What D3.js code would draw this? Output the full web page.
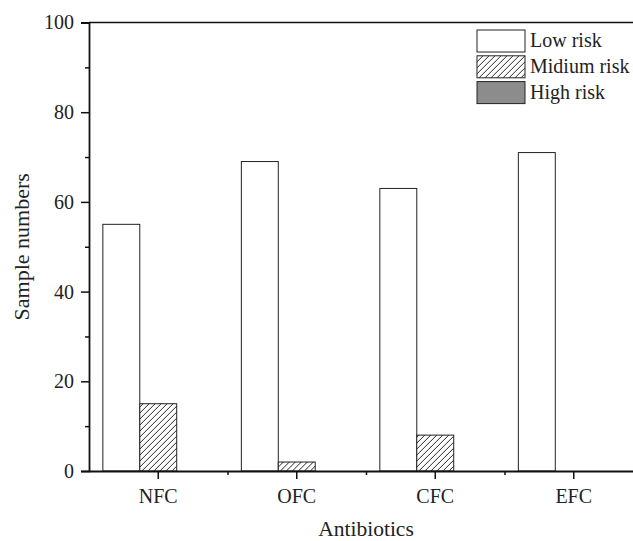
<!DOCTYPE html>
<html>
<head>
<meta charset="utf-8">
<script src="https://cdn.jsdelivr.net/npm/d3@7"></script>
<style>
  body { margin: 0; background: #fff; }
  svg { display: block; font-family: "Liberation Serif", "Times New Roman", serif; }
</style>
</head>
<body>
<svg id="chart" width="633" height="541"></svg>
<script>
// data
const antibiotics = ["NFC", "OFC", "CFC", "EFC"];
const riskLevels = ["Low risk", "Midium risk", "High risk"];
const lowRisk = [55, 69, 63, 71];
const midRisk = [15, 2, 8, 0];
const highRisk = [0, 0, 0, 0];
const yTicks = [0, 20, 40, 60, 80, 100];
const yMinorTicks = [10, 30, 50, 70, 90];

const seriesValues = [lowRisk, midRisk, highRisk];

const svg = d3.select("#chart");

// plot box (right edge runs past the picture, as in the original)
const plotLeft = 89, plotRight = 643, plotTop = 22.5, plotBottom = 471;

const x = d3.scaleBand()
    .domain(antibiotics)
    .range([plotLeft, plotRight])
    .paddingInner(0.2)
    .paddingOuter(0.1);

const xs = d3.scaleBand()
    .domain(riskLevels)
    .range([0, x.bandwidth()]);

const y = d3.scaleLinear()
    .domain([0, 100])
    .range([plotBottom, plotTop]);

// fills: plain, hatched, gray
const defs = svg.append("defs");
const pat = defs.append("pattern")
    .attr("id", "hatch")
    .attr("patternUnits", "userSpaceOnUse")
    .attr("width", 6)
    .attr("height", 6);
pat.append("rect").attr("width", 6).attr("height", 6).attr("fill", "#fff");
pat.append("path")
    .attr("d", "M-1,7 L7,-1 M-4,4 L4,-4 M2,10 L10,2")
    .attr("stroke", "#111")
    .attr("stroke-width", 0.9);

const fills = ["#fff", "url(#hatch)", "#8c8c8c"];

// bars
const groups = svg.append("g").selectAll("g")
    .data(antibiotics)
    .join("g")
    .attr("transform", d => "translate(" + x(d) + ",0)");

groups.selectAll("rect")
    .data((d, i) => riskLevels.map((r, j) => ({ risk: r, value: seriesValues[j][i], j: j })))
    .join("rect")
    .attr("x", d => xs(d.risk))
    .attr("width", xs.bandwidth())
    .attr("y", d => y(d.value))
    .attr("height", d => plotBottom - y(d.value))
    .attr("fill", d => fills[d.j])
    .attr("stroke", "#222")
    .attr("stroke-width", 1);

// frame top + right
svg.append("path")
    .attr("d", `M${plotLeft},${plotTop} H${plotRight} V${plotBottom}`)
    .attr("fill", "none")
    .attr("stroke", "#111")
    .attr("stroke-width", 1.5);

// y axis
svg.append("g")
    .attr("transform", `translate(${plotLeft},0)`)
    .call(d3.axisLeft(y).tickValues(yTicks).tickSize(8).tickPadding(7).tickFormat(d3.format("d")));
svg.append("g")
    .attr("transform", `translate(${plotLeft},0)`)
    .call(d3.axisLeft(y).tickValues(yMinorTicks).tickSize(4).tickFormat(""))
    .select(".domain").remove();

// x axis
svg.append("g")
    .attr("transform", `translate(0,${plotBottom})`)
    .call(d3.axisBottom(x).tickSize(8).tickPadding(10).tickSizeOuter(0));
const step = x.step();
const minorX = antibiotics.slice(0, -1).map(d => x(d) + x.bandwidth() / 2 + step / 2);
svg.append("g")
    .attr("transform", `translate(0,${plotBottom})`)
    .call(d3.axisBottom(d3.scaleLinear().domain([plotLeft, plotRight]).range([plotLeft, plotRight]))
        .tickValues(minorX).tickSize(4).tickFormat(""))
    .select(".domain").remove();

svg.selectAll(".domain").attr("stroke", "#111").attr("stroke-width", 1.8);
svg.selectAll(".tick line").attr("stroke", "#111").attr("stroke-width", 1.5);
svg.selectAll(".tick text")
    .attr("fill", "#222")
    .style("font-family", "Liberation Serif, serif")
    .style("font-size", "20px");

// axis titles
svg.append("text")
    .attr("x", (plotLeft + plotRight) / 2)
    .attr("y", 536)
    .attr("text-anchor", "middle")
    .attr("fill", "#222")
    .style("font-size", "21.5px")
    .text("Antibiotics");

svg.append("text")
    .attr("transform", `translate(29,${(plotTop + plotBottom) / 2}) rotate(-90)`)
    .attr("text-anchor", "middle")
    .attr("fill", "#222")
    .style("font-size", "22px")
    .text("Sample numbers");

// legend
const legend = svg.append("g").attr("transform", "translate(477,30)");
const item = legend.selectAll("g")
    .data(riskLevels)
    .join("g")
    .attr("transform", (d, i) => `translate(0,${i * 25.8})`);
item.append("rect")
    .attr("width", 48)
    .attr("height", 22)
    .attr("fill", (d, i) => fills[i])
    .attr("stroke", "#222")
    .attr("stroke-width", 1);
item.append("text")
    .attr("x", 53)
    .attr("y", 17)
    .attr("fill", "#222")
    .style("font-size", "20px")
    .text(d => d);
</script>
</body>
</html>
